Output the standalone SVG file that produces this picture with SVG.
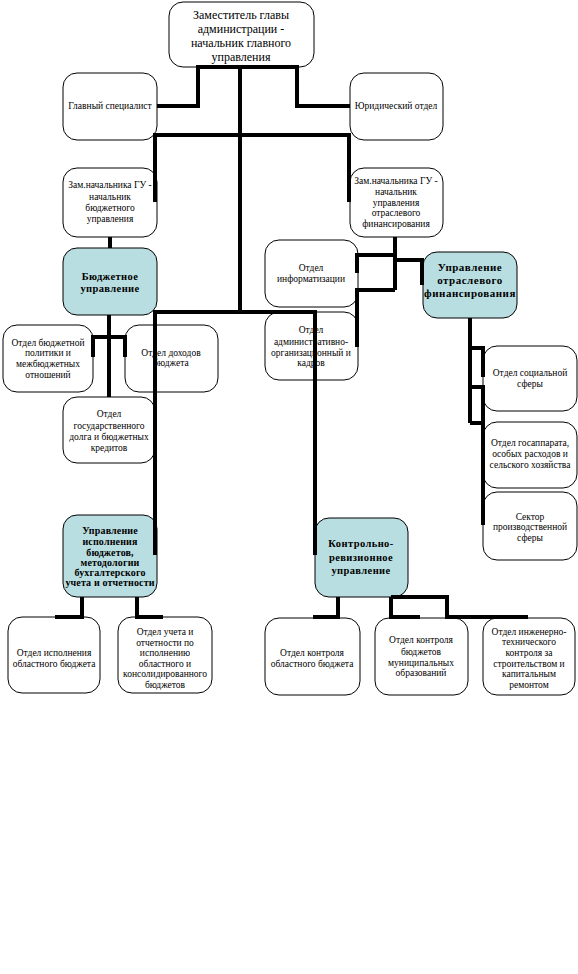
<svg xmlns="http://www.w3.org/2000/svg" width="578" height="974" viewBox="0 0 578 974" font-family="Liberation Serif">
<style>
.b{fill:#fff;stroke:#000;stroke-width:1}
.h{fill:#b8dee1;stroke:#000;stroke-width:1}
text{font-size:9.5px;text-anchor:middle;fill:#000}
.t{font-size:12px}
.bd{font-weight:bold;font-size:10.5px;letter-spacing:0.4px}
.bs{font-size:10px;letter-spacing:0.15px}
.bw{font-size:11px;letter-spacing:0.5px}
.c{fill:none;stroke:#000;stroke-width:4;stroke-linejoin:miter;stroke-linecap:butt}
</style>
<rect width="578" height="974" fill="#fff"/>
<g id="n-top"><rect class="b" x="169" y="2" width="145" height="65" rx="14"/>
<text class="t" x="241" y="19">Заместитель главы</text><text class="t" x="241" y="33">администрации -</text><text class="t" x="241" y="47">начальник главного</text><text class="t" x="241" y="61">управления</text></g>
<g id="n-spec"><rect class="b" x="63" y="73" width="94" height="67" rx="14"/><text x="110" y="109">Главный специалист</text></g>
<g id="n-jur"><rect class="b" x="350" y="73" width="93" height="67" rx="14"/><text x="396" y="109">Юридический отдел</text></g>
<g id="n-zam1"><rect class="b" x="63" y="168" width="94" height="69" rx="14"/>
<text x="110" y="188">Зам.начальника ГУ -</text><text x="110" y="200">начальник</text><text x="110" y="211">бюджетного</text><text x="110" y="222">управления</text></g>
<g id="n-zam2"><rect class="b" x="350" y="168" width="93" height="69" rx="14"/>
<text x="396" y="184">Зам.начальника ГУ -</text><text x="396" y="195">начальник</text><text x="396" y="206">управления</text><text x="396" y="216">отраслевого</text><text x="396" y="227">финансирования</text></g>
<g id="n-bu"><rect class="h" x="63" y="248" width="94" height="67" rx="14"/>
<text class="bd" x="110" y="280">Бюджетное</text><text class="bd" x="110" y="292">управление</text></g>
<g id="n-inf"><rect class="b" x="265" y="240" width="93" height="67" rx="14"/>
<text x="311" y="271">Отдел</text><text x="311" y="282">информатизации</text></g>
<g id="n-adm"><rect class="b" x="265" y="312" width="93" height="68" rx="14"/>
<text x="311" y="333">Отдел</text><text x="311" y="345">административно-</text><text x="311" y="356">организационный и</text><text x="311" y="366">кадров</text></g>
<g id="n-uof"><rect class="h" x="423" y="252" width="94" height="66" rx="14"/>
<text class="bd bw" x="470" y="271">Управление</text><text class="bd bw" x="470" y="284">отраслевого</text><text class="bd bw" x="470" y="297">финансирования</text></g>
<g id="n-bp"><rect class="b" x="3" y="325" width="90" height="67" rx="14"/>
<text x="48" y="346">Отдел бюджетной</text><text x="48" y="356">политики и</text><text x="48" y="367">межбюджетных</text><text x="48" y="378">отношений</text></g>
<g id="n-doh"><rect class="b" x="125" y="325" width="93" height="67" rx="14"/>
<text x="171" y="356">Отдел доходов</text><text x="171" y="366">бюджета</text></g>
<g id="n-gd"><rect class="b" x="63" y="397" width="92" height="66" rx="14"/>
<text x="109" y="417">Отдел</text><text x="109" y="429">государственного</text><text x="109" y="440">долга и бюджетных</text><text x="109" y="451">кредитов</text></g>
<g id="n-soc"><rect class="b" x="483" y="346" width="94" height="65" rx="14"/>
<text x="530" y="376">Отдел  социальной</text><text x="530" y="387">сферы</text></g>
<g id="n-gos"><rect class="b" x="483" y="422" width="94" height="66" rx="14"/>
<text x="530" y="446">Отдел госаппарата,</text><text x="530" y="457">особых расходов и</text><text x="530" y="468">сельского хозяйства</text></g>
<g id="n-sek"><rect class="b" x="483" y="492" width="94" height="68" rx="14"/>
<text x="530" y="520">Сектор</text><text x="530" y="530">производственной</text><text x="530" y="541">сферы</text></g>
<g id="n-ui"><rect class="h" x="63" y="515" width="94" height="82" rx="14"/>
<text class="bd bs" x="110" y="534">Управление</text><text class="bd bs" x="110" y="545">исполнения</text><text class="bd bs" x="110" y="556">бюджетов,</text><text class="bd bs" x="110" y="566">методологии</text><text class="bd bs" x="110" y="576">бухгалтерского</text><text class="bd bs" x="110" y="586">учета и  отчетности</text></g>
<g id="n-kru"><rect class="h" x="315" y="518" width="93" height="79" rx="14"/>
<text class="bd" x="361" y="547">Контрольно-</text><text class="bd" x="361" y="561">ревизионное</text><text class="bd" x="361" y="574">управление</text></g>
<g id="n-oi"><rect class="b" x="8" y="617" width="92" height="76" rx="14"/>
<text x="54" y="656">Отдел исполнения</text><text x="54" y="667">областного бюджета</text></g>
<g id="n-ou"><rect class="b" x="118" y="617" width="94" height="76" rx="14"/>
<text x="165" y="635">Отдел учета и</text><text x="165" y="646">отчетности по</text><text x="165" y="656">исполнению</text><text x="165" y="667">областного и</text><text x="165" y="677">консолидированного</text><text x="165" y="688">бюджетов</text></g>
<g id="n-ko"><rect class="b" x="265" y="618" width="95" height="77" rx="14"/>
<text x="312" y="656">Отдел контроля</text><text x="312" y="667">областного бюджета</text></g>
<g id="n-km"><rect class="b" x="375" y="618" width="93" height="77" rx="14"/>
<text x="421" y="643">Отдел контроля</text><text x="421" y="655">бюджетов</text><text x="421" y="666">муниципальных</text><text x="421" y="676">образований</text></g>
<g id="n-ki"><rect class="b" x="483" y="618" width="92" height="77" rx="14"/>
<text x="529" y="635">Отдел инженерно-</text><text x="529" y="645">технического</text><text x="529" y="656">контроля за</text><text x="529" y="667">строительством и</text><text x="529" y="677">капитальным</text><text x="529" y="688">ремонтом</text></g>
<g id="connectors">
<polyline class="c" points="157,106 198,106 198,67 297,67 297,106 350,106"/>
<line class="c" x1="240" y1="67" x2="240" y2="312"/>
<polyline class="c" points="155,202 155,135 349,135 349,202"/>
<line class="c" x1="110" y1="237" x2="110" y2="248"/>
<polyline class="c" points="155,555 155,312 315,312 315,555"/>
<line class="c" x1="109" y1="315" x2="109" y2="397"/>
<polyline class="c" points="93,357 93,337 125,337 125,357"/>
<line class="c" x1="395" y1="237" x2="395" y2="290"/>
<polyline class="c" points="357,273 357,255 395,255"/>
<polyline class="c" points="395,260 422,260 422,285"/>
<polyline class="c" points="357,347 357,290 395,290"/>
<line class="c" x1="470" y1="318" x2="470" y2="423"/>
<polyline class="c" points="470,348 483,348 483,377"/>
<polyline class="c" points="470,387 483,387 483,525"/>
<line class="c" x1="470" y1="423" x2="483" y2="423"/>
<polyline class="c" points="82,597 82,617 55,617"/>
<polyline class="c" points="137,597 137,617 163,617"/>
<polyline class="c" points="338,597 338,617 313,617"/>
<polyline class="c" points="391,597 391,617 420,617"/>
<polyline class="c" points="391,597 447,597 447,617 528,617"/>
</g>
</svg>
